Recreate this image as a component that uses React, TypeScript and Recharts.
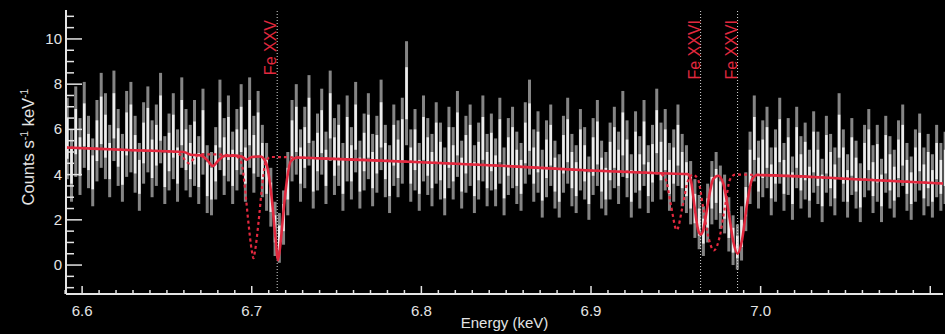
import {
  ComposedChart,
  Scatter,
  ErrorBar,
  Line,
  XAxis,
  YAxis,
  ReferenceLine,
} from 'recharts'

const RED = '#e2283e'
const INK = '#e4e4e4'

// spectrum bins (keV), 0.0025 keV wide starting at 6.59125
const BIN_START = 6.59125
const BIN_WIDTH = 0.0025

const counts = [
  5.6, 4.4, 5.9, 4.8, 6.2, 5.0, 4.1, 5.5, 6.4, 5.7,
  4.6, 6.6, 5.2, 4.3, 5.8, 6.1, 4.9, 3.9, 5.4, 6.0,
  4.7, 5.3, 6.5, 4.2, 5.0, 5.7, 4.4, 6.3, 5.1, 4.6,
  5.4, 4.2, 5.9, 3.8, 3.6, 4.5, 6.2, 4.8, 5.6, 4.3,
  5.1, 6.0, 4.4, 6.3, 4.9, 5.8, 4.6, 3.9, 3.0, 1.6,
  1.2, 2.1, 3.6, 5.5, 6.0, 4.4, 5.2, 6.4, 4.0, 5.0,
  5.9, 4.3, 6.6, 4.8, 5.3, 3.9, 5.6, 4.5, 6.1, 4.0,
  5.0, 5.7, 4.2, 4.9, 6.2, 4.6, 3.8, 5.3, 4.7, 5.5,
  7.6, 4.4, 5.1, 3.9, 5.6, 4.8, 4.2, 5.4, 4.6, 3.7,
  5.2, 4.5, 5.8, 4.0, 4.9, 5.3, 3.8, 4.6, 5.6, 4.2,
  5.0, 4.1, 5.5, 3.7, 4.8, 5.2, 4.3, 3.9, 5.4, 6.1,
  4.4, 5.0, 3.6, 4.7, 5.3, 4.0, 3.5, 4.9, 5.5, 4.2,
  3.8, 5.1, 4.5, 3.4, 4.8, 5.4, 4.0, 3.6, 4.6, 5.2,
  4.3, 5.8, 4.7, 3.5, 5.0, 4.1, 5.4, 3.8, 4.5, 5.9,
  4.6, 5.1, 3.9, 4.4, 5.3, 4.2, 3.8, 3.2, 2.5, 1.9,
  1.5, 2.3, 3.2, 3.5, 3.0, 2.7, 1.8, 1.1, 0.8, 1.4,
  2.8, 4.3, 5.6, 4.0, 4.7, 5.2, 3.7, 4.4, 5.5, 3.9,
  4.8, 3.4, 5.2, 4.1, 4.6, 3.6, 5.0, 4.3, 3.3, 4.9,
  4.2, 3.7, 5.7, 4.4, 3.5, 4.8, 4.0, 3.2, 4.6, 5.1,
  3.8, 4.5, 3.3, 4.9, 4.1, 3.6, 4.7, 5.3, 3.9, 3.4,
  4.4, 5.0, 3.7, 4.2, 3.5, 4.6, 3.9, 4.3,
]

const errs = [
  1.8, 1.6, 2.0, 1.7, 1.9, 1.6, 1.5, 1.8, 2.1, 1.9,
  1.6, 2.0, 1.7, 1.5, 1.9, 2.0, 1.7, 1.5, 1.8, 1.9,
  1.7, 1.8, 2.0, 1.5, 1.7, 1.9, 1.6, 2.0, 1.8, 1.6,
  1.9, 1.5, 1.9, 1.5, 1.4, 1.6, 2.0, 1.7, 1.9, 1.6,
  1.8, 2.0, 1.6, 2.0, 1.7, 1.9, 1.6, 1.5, 1.3, 1.2,
  1.1, 1.2, 1.4, 1.8, 2.0, 1.6, 1.8, 2.0, 1.5, 1.7,
  1.9, 1.6, 2.0, 1.7, 1.8, 1.5, 1.9, 1.6, 2.0, 1.5,
  1.7, 1.9, 1.6, 1.7, 2.0, 1.6, 1.5, 1.8, 1.7, 1.9,
  2.3, 1.6, 1.8, 1.5, 1.9, 1.7, 1.6, 1.8, 1.7, 1.5,
  1.8, 1.6, 1.9, 1.5, 1.7, 1.8, 1.5, 1.7, 1.9, 1.6,
  1.7, 1.5, 1.9, 1.5, 1.7, 1.8, 1.6, 1.5, 1.8, 2.1,
  1.6, 1.8, 1.5, 1.7, 1.8, 1.5, 1.4, 1.7, 1.9, 1.6,
  1.5, 1.8, 1.6, 1.4, 1.7, 1.9, 1.5, 1.4, 1.7, 1.8,
  1.6, 1.9, 1.7, 1.4, 1.8, 1.6, 1.9, 1.5, 1.7, 1.9,
  1.7, 1.8, 1.5, 1.6, 1.8, 1.6, 1.5, 1.4, 1.3, 1.2,
  1.1, 1.3, 1.4, 1.5, 1.4, 1.3, 1.2, 1.1, 1.0, 1.2,
  1.3, 1.6, 1.9, 1.5, 1.7, 1.8, 1.5, 1.6, 1.9, 1.5,
  1.7, 1.4, 1.8, 1.6, 1.7, 1.5, 1.8, 1.6, 1.4, 1.7,
  1.6, 1.5, 1.9, 1.6, 1.4, 1.7, 1.5, 1.3, 1.6, 1.8,
  1.5, 1.7, 1.4, 1.7, 1.6, 1.5, 1.7, 1.8, 1.5, 1.4,
  1.6, 1.7, 1.5, 1.6, 1.4, 1.6, 1.5, 1.6,
]

// best-fit model (solid) and rest-frame model (dashed), [keV, counts]
const modelSolid = [
  [6.59, 5.2], [6.61, 5.14], [6.63, 5.08], [6.65, 5.03], [6.66, 5.0],
  [6.664, 4.88], [6.67, 4.85], [6.674, 4.62], [6.677, 4.38], [6.68, 4.6],
  [6.684, 4.83], [6.69, 4.84], [6.694, 4.8], [6.697, 4.66], [6.7, 4.78],
  [6.705, 4.8], [6.708, 4.6], [6.71, 4.0], [6.712, 2.8], [6.714, 1.2],
  [6.7155, 0.22], [6.717, 1.0], [6.719, 2.6], [6.721, 3.9], [6.723, 4.6],
  [6.727, 4.76], [6.74, 4.72], [6.8, 4.55], [6.85, 4.38], [6.9, 4.18],
  [6.94, 4.06], [6.957, 4.02], [6.959, 3.7], [6.961, 2.6], [6.963, 1.6],
  [6.9646, 1.35], [6.966, 1.5], [6.968, 2.3], [6.97, 3.2], [6.972, 3.8],
  [6.975, 3.95], [6.978, 3.6], [6.981, 2.4], [6.984, 1.0], [6.9864, 0.5],
  [6.989, 1.1], [6.992, 2.7], [6.995, 3.8], [6.998, 3.98], [7.05, 3.82],
  [7.11, 3.6],
]

const modelDashed = [
  [6.59, 5.2], [6.63, 5.08], [6.655, 5.0], [6.659, 4.8], [6.663, 4.5],
  [6.667, 4.8], [6.671, 4.9], [6.69, 4.85], [6.694, 4.5], [6.696, 3.4],
  [6.698, 1.9], [6.7, 0.65], [6.701, 0.3], [6.702, 0.65], [6.704, 1.9],
  [6.706, 3.4], [6.708, 4.5], [6.711, 4.78], [6.74, 4.72], [6.8, 4.55],
  [6.85, 4.38], [6.9, 4.18], [6.94, 4.06], [6.944, 3.8], [6.947, 2.7],
  [6.9505, 1.55], [6.954, 2.6], [6.957, 3.7], [6.96, 4.0], [6.963, 3.8],
  [6.966, 2.6], [6.969, 1.3], [6.9725, 0.65], [6.976, 1.3], [6.979, 2.6],
  [6.982, 3.8], [6.985, 4.0], [7.05, 3.82], [7.11, 3.6],
]

const ionLines = [
  { e: 6.715, name: 'Fe XXV' },
  { e: 6.9646, name: 'Fe XXVI' },
  { e: 6.9864, name: 'Fe XXVI' },
]

const X_DOMAIN = [6.5905, 7.1075]
const Y_DOMAIN = [-1.28, 11.28]
const X_LABELS = [6.6, 6.7, 6.8, 6.9, 7.0]

const spectrum = counts.map((v, i) => ({
  e: BIN_START + i * BIN_WIDTH,
  v,
  err: errs[i],
  core: errs[i] * 0.5,
}))
const solidData = modelSolid.map(([e, y]) => ({ e, y }))
const dashedData = modelDashed.map(([e, y]) => ({ e, y }))

const xTicks: number[] = []
for (let k = 659; k <= 710; k++) xTicks.push(k / 100)
const yTicks: number[] = []
for (let k = -2; k <= 22; k++) yTicks.push(k / 2)

const isMajorX = (v: number) => Math.abs(v * 10 - Math.round(v * 10)) < 1e-6
const isMajorY = (v: number) => Math.abs(v / 2 - Math.round(v / 2)) < 1e-6
const hasXLabel = (v: number) => X_LABELS.some((l) => Math.abs(l - v) < 1e-6)

const font = '"Liberation Sans", Arial, sans-serif'

function BottomTick({ x, y, payload }: any) {
  const major = isMajorX(payload.value)
  return (
    <g>
      <line x1={x} x2={x} y1={y} y2={y - (major ? 8 : 4)} stroke={INK} strokeWidth={1.5} />
      {hasXLabel(payload.value) && (
        <text x={x} y={y + 22} textAnchor="middle" fill={INK} fontSize={15} fontFamily={font}>
          {payload.value.toFixed(1)}
        </text>
      )}
    </g>
  )
}

function TopTick({ x, y, payload }: any) {
  const major = isMajorX(payload.value)
  return <line x1={x} x2={x} y1={y} y2={y + (major ? 8 : 4)} stroke={INK} strokeWidth={1.5} />
}

function LeftTick({ x, y, payload }: any) {
  const major = isMajorY(payload.value)
  return (
    <g>
      <line x1={x} x2={x + (major ? 16 : 8)} y1={y} y2={y} stroke={INK} strokeWidth={1.5} />
      {major && (
        <text x={x - 4} y={y + 5} textAnchor="end" fill={INK} fontSize={15} fontFamily={font}>
          {Math.round(payload.value)}
        </text>
      )}
    </g>
  )
}

function RightTick({ x, y, payload }: any) {
  const major = isMajorY(payload.value)
  return <line x1={x} x2={x - (major ? 16 : 8)} y1={y} y2={y} stroke={INK} strokeWidth={1.5} />
}

const noDot = () => <g />

export default function App() {
  return (
    <div style={{ position: 'absolute', left: 0, top: 0, width: 945, height: 334, background: '#000' }}>
      <ComposedChart width={945} height={334} margin={{ top: 10, right: 2, bottom: 0, left: 0 }}>
        <XAxis
          type="number"
          dataKey="e"
          domain={X_DOMAIN}
          allowDataOverflow
          ticks={xTicks}
          interval={0}
          tickSize={0}
          tickMargin={0}
          tick={BottomTick}
          height={40}
          axisLine={{ stroke: INK, strokeWidth: 2 }}
          label={({ viewBox }: any) => (
            <text
              x={viewBox.x + viewBox.width / 2}
              y={viewBox.y + 34}
              textAnchor="middle"
              fill={INK}
              fontSize={15}
              fontFamily={font}
            >
              Energy (keV)
            </text>
          )}
        />
        <XAxis
          xAxisId="top"
          orientation="top"
          type="number"
          dataKey="e"
          domain={X_DOMAIN}
          allowDataOverflow
          ticks={xTicks}
          interval={0}
          tickSize={0}
          tickMargin={0}
          tick={TopTick}
          height={0}
          axisLine={{ stroke: INK, strokeWidth: 2 }}
        />
        <YAxis
          type="number"
          domain={Y_DOMAIN}
          allowDataOverflow
          ticks={yTicks}
          interval={0}
          tickSize={0}
          tickMargin={0}
          tick={LeftTick}
          width={66}
          axisLine={{ stroke: INK, strokeWidth: 2 }}
          label={({ viewBox }: any) => (
            <text
              transform={`translate(${viewBox.x + 34}, ${viewBox.y + viewBox.height / 2 - 5}) rotate(-90)`}
              textAnchor="middle"
              fill={INK}
              fontSize={16.5}
              fontFamily={font}
            >
              Counts s<tspan dy={-6} fontSize={10.5}>-1</tspan>
              <tspan dy={6}> keV</tspan>
              <tspan dy={-6} fontSize={10.5}>-1</tspan>
            </text>
          )}
        />
        <YAxis
          yAxisId="right"
          orientation="right"
          type="number"
          domain={Y_DOMAIN}
          allowDataOverflow
          ticks={yTicks}
          interval={0}
          tickSize={0}
          tickMargin={0}
          tick={RightTick}
          width={0}
          axisLine={{ stroke: INK, strokeWidth: 2 }}
        />

        <Scatter data={spectrum} dataKey="v" shape={noDot} isAnimationActive={false}>
          <ErrorBar dataKey="err" direction="y" width={0} stroke="#858585" strokeWidth={3} isAnimationActive={false} />
          <ErrorBar dataKey="core" direction="y" width={0} stroke="#ececec" strokeWidth={2.6} isAnimationActive={false} />
        </Scatter>

        {ionLines.map((l, i) => (
          <ReferenceLine
            key={i}
            x={l.e}
            stroke="#d8d8d8"
            strokeDasharray="1 2"
            strokeWidth={1}
            label={({ viewBox }: any) => (
              <text
                transform={`translate(${viewBox.x - 1}, ${viewBox.y + 10}) rotate(-90)`}
                textAnchor="end"
                fill={RED}
                fontSize={16}
                fontFamily={font}
              >
                {l.name}
              </text>
            )}
          />
        ))}

        <Line
          data={dashedData}
          dataKey="y"
          type="monotone"
          stroke={RED}
          strokeWidth={2.2}
          strokeDasharray="3 3"
          dot={false}
          isAnimationActive={false}
        />
        <Line
          data={solidData}
          dataKey="y"
          type="monotone"
          stroke={RED}
          strokeWidth={2.6}
          dot={false}
          isAnimationActive={false}
        />
        <Line
          xAxisId="top"
          yAxisId="right"
          data={solidData}
          dataKey="y"
          stroke="none"
          dot={false}
          isAnimationActive={false}
        />
      </ComposedChart>
    </div>
  )
}
